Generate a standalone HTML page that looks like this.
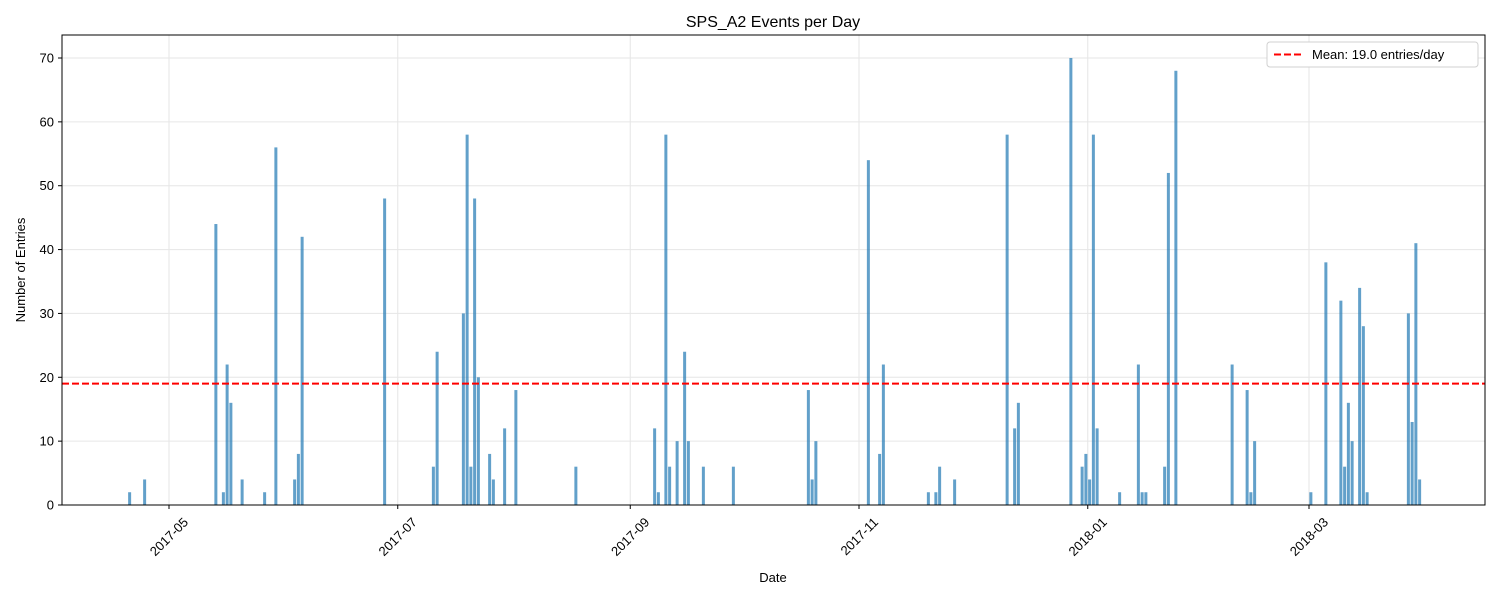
<!DOCTYPE html>
<html><head><meta charset="utf-8"><style>
body{margin:0;background:#fff;}
svg{display:block;font-family:"Liberation Sans","DejaVu Sans",sans-serif;}
</style></head><body>
<svg id="chart" width="1500" height="600" viewBox="0 0 1500 600"></svg>
<script>
const baseDate = '2017-05-01';
const dayOffsets = [-11,-7,12,14,15,16,19,25,28,33,34,35,57,70,71,78,79,80,81,82,85,86,89,92,108,129,130,132,133,135,137,138,142,150,170,171,172,186,189,190,202,204,205,209,223,225,226,240,243,244,245,246,247,253,258,259,260,265,266,268,283,287,288,289,304,308,312,313,314,315,317,318,319,330,331,332,333];
const counts = [2,4,44,2,22,16,4,2,56,4,8,42,48,6,24,30,58,6,48,20,8,4,12,18,6,12,2,58,6,10,24,10,6,6,18,4,10,54,8,22,2,2,6,4,58,12,16,70,6,8,4,58,12,2,22,2,2,6,52,68,22,18,2,10,2,38,32,6,16,10,34,28,2,30,13,41,4];
const meanValue = 19.0;
const yTicks = [0,10,20,30,40,50,60,70];
const xTickLabels = ['2017-05','2017-07','2017-09','2017-11','2018-01','2018-03'];
const xTickDays = [0,61,123,184,245,304];

const NS='http://www.w3.org/2000/svg';
const svg=document.getElementById('chart');
const L=62,R=1485,T=35,B=505;
const X0=169, PX=3.75;
const xs=d=>X0+d*PX;
const ys=v=>B-v*(447/70);
function mk(tag,attrs,parent){const e=document.createElementNS(NS,tag);for(const k in attrs)e.setAttribute(k,attrs[k]);(parent||svg).appendChild(e);return e;}

yTicks.forEach(v=>{const g=mk('line',{x1:L,x2:R,y1:ys(v),y2:ys(v),stroke:'#e6e6e6','stroke-width':1});

});
xTickDays.forEach(d=>{const g=mk('line',{x1:xs(d),x2:xs(d),y1:T,y2:B,stroke:'#e6e6e6','stroke-width':1});

});

dayOffsets.forEach((d,i)=>{const v=counts[i];const y=ys(v);
const b=mk('rect',{x:xs(d+0.5)-1.5,y:y,width:3,height:B-y,fill:'#1f77b4','fill-opacity':0.7});

});

const ml=mk('line',{x1:L,x2:R,y1:ys(meanValue),y2:ys(meanValue),stroke:'#ff0000','stroke-width':2,'stroke-dasharray':'7,3'});



const fr=mk('rect',{x:L,y:T,width:R-L,height:B-T,fill:'none',stroke:'#000','stroke-width':1});



yTicks.forEach(v=>{mk('line',{x1:L-4,x2:L,y1:ys(v),y2:ys(v),stroke:'#000'});
const t=mk('text',{x:L-8,y:ys(v)+4.5,'text-anchor':'end','font-size':13,fill:'#000'});t.textContent=v;

});

xTickDays.forEach((d,i)=>{const x=xs(d);mk('line',{x1:x,x2:x,y1:B,y2:B+4,stroke:'#000'});
const t=mk('text',{x:0,y:0,'text-anchor':'end','font-size':13,fill:'#000',transform:`translate(${x+20},${B+18}) rotate(-45)`});t.textContent=xTickLabels[i];

});

const ti=mk('text',{x:773,y:27,'text-anchor':'middle','font-size':16});ti.textContent='SPS_A2 Events per Day';


const xl=mk('text',{x:773,y:582,'text-anchor':'middle','font-size':13});xl.textContent='Date';


const yl=mk('text',{x:0,y:0,'text-anchor':'middle','font-size':13,transform:'translate(25,270) rotate(-90)'});yl.textContent='Number of Entries';



const lg=mk('g',{});


mk('rect',{x:1267,y:42,width:211,height:25,rx:3,fill:'#fff',stroke:'#d0d0d0'},lg);
mk('line',{x1:1274,x2:1302,y1:54.5,y2:54.5,stroke:'#ff0000','stroke-width':2,'stroke-dasharray':'7,3'},lg);
const lt=mk('text',{x:1312,y:59,'font-size':13},lg);lt.textContent='Mean: 19.0 entries/day';


</script>
</body></html>
